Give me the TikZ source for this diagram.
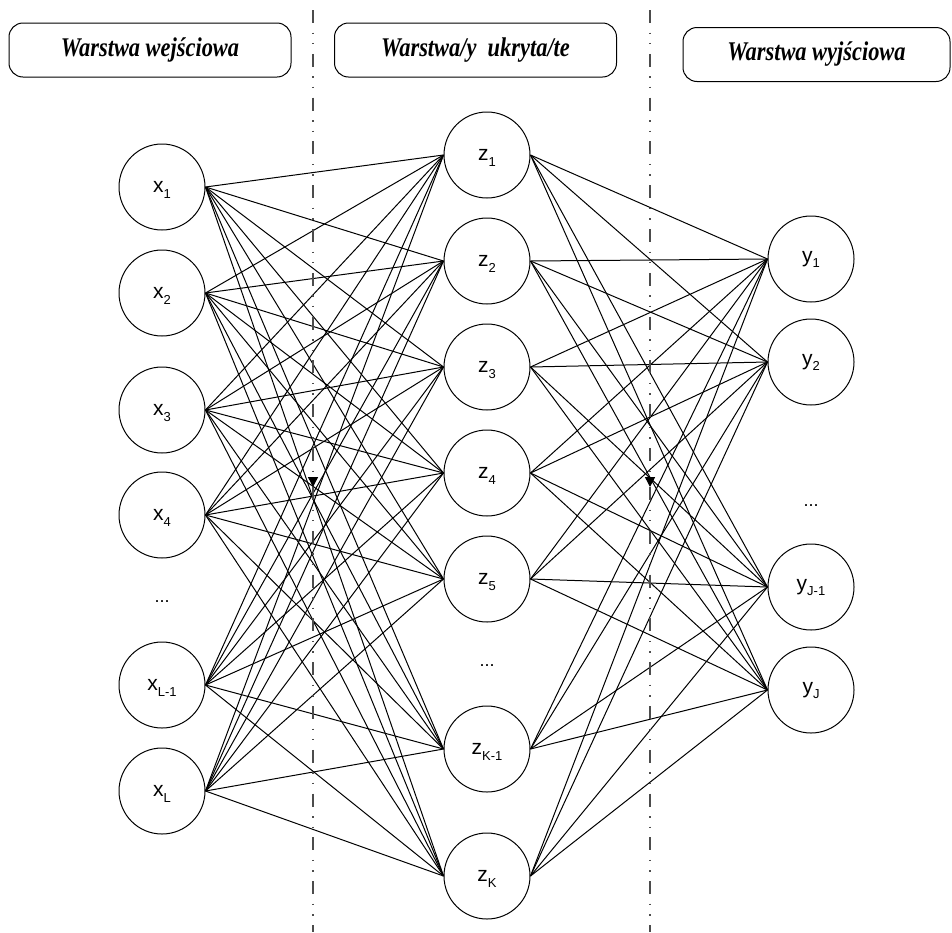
\documentclass[tikz,border=0pt]{standalone}
\usepackage{fontspec}
\setmainfont{Liberation Sans}
\newfontfamily\headfont{Liberation Serif}
\usepackage{tikz}
\usetikzlibrary{arrows.meta, positioning}
\newcommand{\nlab}[2]{#1\raisebox{-2.8pt}[0pt][0pt]{\fontsize{6.5}{7}\selectfont #2}}

\begin{document}
\begin{tikzpicture}[
    x=0.5pt, y=-0.5pt,
    neuron/.style={circle, draw, line width=0.5pt, minimum size=43pt, inner sep=0pt, font=\fontsize{10.5}{12}\selectfont},
    layerbox/.style={draw, rounded corners=7pt, line width=0.5pt, minimum width=141pt, minimum height=27pt, inner sep=0pt, text height=9pt, text depth=3pt, font=\headfont\bfseries\itshape\fontsize{13.5}{15}\selectfont},
    dotsnode/.style={inner sep=0pt, font=\fontsize{9}{10}\selectfont},
    conn/.style={line width=0.5pt},
    sepline/.style={black!70, line width=0.7pt, dash pattern=on 6.5pt off 4.75pt on 0.7pt off 4.5pt on 0.7pt off 4.75pt}
  ]
  \useasboundingbox (0,0) rectangle (952,932);

  % naglowki warstw
  \node[layerbox] (inhead) at (150,50) {\scalebox{0.83}[1]{Warstwa wejściowa}};
  \node[layerbox] (hidhead) at (475.5,50) {\scalebox{0.83}[1]{Warstwa/y\ \ ukryta/te}};
  \node[layerbox, minimum width=133.5pt] (outhead) at (816.5,54.5) {\scalebox{0.83}[1]{Warstwa wyjściowa}};

  % warstwa wejsciowa
  \node[neuron] (x1) at (162,187) {\nlab{x}{1}};
  \node[neuron] (x2) at (162,293) {\nlab{x}{2}};
  \node[neuron] (x3) at (162,410) {\nlab{x}{3}};
  \node[neuron] (x4) at (162,515) {\nlab{x}{4}};
  \node[dotsnode] (xdots) at (162,602) {...};
  \node[neuron] (x5) at (162,685) {\nlab{x}{L-1}};
  \node[neuron] (x6) at (162,791) {\nlab{x}{L}};

  % warstwa ukryta
  \node[neuron] (z1) at (487,155) {\nlab{z}{1}};
  \node[neuron] (z2) at (487,261) {\nlab{z}{2}};
  \node[neuron] (z3) at (487,367) {\nlab{z}{3}};
  \node[neuron] (z4) at (487,473) {\nlab{z}{4}};
  \node[neuron] (z5) at (487,579) {\nlab{z}{5}};
  \node[dotsnode] (zdots) at (487,666) {...};
  \node[neuron] (z6) at (487,749) {\nlab{z}{K-1}};
  \node[neuron] (z7) at (487,876) {\nlab{z}{K}};

  % warstwa wyjsciowa
  \node[neuron] (y1) at (811,259) {\nlab{y}{1}};
  \node[neuron] (y2) at (811,362) {\nlab{y}{2}};
  \node[dotsnode] (ydots) at (811,506) {...};
  \node[neuron] (y3) at (811,587) {\nlab{y}{J-1}};
  \node[neuron] (y4) at (811,690) {\nlab{y}{J}};

  % polaczenia
  \foreach \i in {1,...,6}
    \foreach \j in {1,...,7}
      \draw[conn] (x\i.east) -- (z\j.west);
  \foreach \j in {1,...,7}
    \foreach \k in {1,...,4}
      \draw[conn] (z\j.east) -- (y\k.west);

  % linie podzialu
  \coordinate (s1top) at (313,10);
  \coordinate (s1mid) at (313,487);
  \coordinate (s1bot) at (313,932);
  \coordinate (s2top) at (650,10);
  \coordinate (s2mid) at (650,487);
  \coordinate (s2bot) at (650,932);
  \draw[sepline, -{Triangle[width=5pt, length=5pt, color=black]}] (s1top) -- (s1mid);
  \draw[sepline] (s1mid) -- (s1bot);
  \draw[sepline, -{Triangle[width=5pt, length=5pt, color=black]}] (s2top) -- (s2mid);
  \draw[sepline] (s2mid) -- (s2bot);
\end{tikzpicture}
\end{document}
